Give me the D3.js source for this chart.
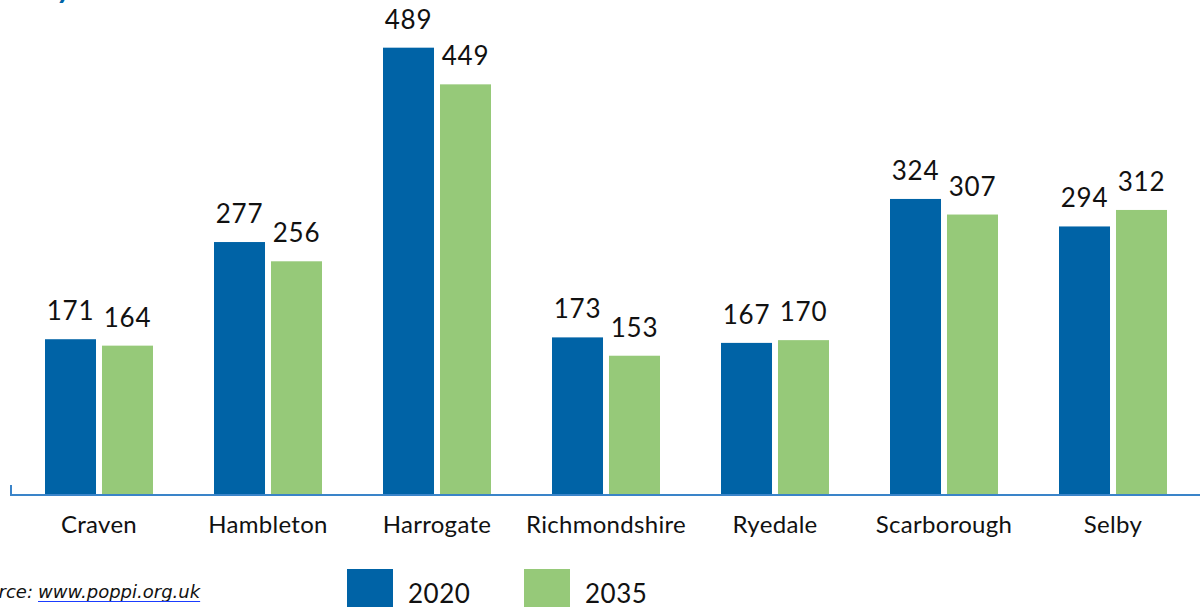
<!DOCTYPE html>
<html><head><meta charset="utf-8">
<script src="https://cdn.jsdelivr.net/npm/d3@7"></script>
<style>
html,body{margin:0;padding:0;background:#fff;overflow:hidden}
svg{display:block}
text{font-family:"Lato","Open Sans",sans-serif}
</style></head>
<body>
<svg id="c" width="1200" height="607"></svg>
<script>
const categories = ["Craven","Hambleton","Harrogate","Richmondshire","Ryedale","Scarborough","Selby"];
const seriesNames = ["2020","2035"];
const values2020 = [171,277,489,173,167,324,294];
const values2035 = [164,256,449,153,170,307,312];
const colors = ["#0063A6","#96C979"];

const svg = d3.select("#c");
const data = categories.map((c,i)=>({cat:c, vals:[values2020[i], values2035[i]]}));

const x0 = d3.scaleBand().domain(categories).range([14.5,1197.5]).paddingInner(0).paddingOuter(0);
const groupPad = 30.5;
const x1 = d3.scaleBand().domain(seriesNames).range([groupPad, x0.bandwidth()-groupPad]).paddingInner(0.105).paddingOuter(0);
const y = d3.scaleLinear().domain([0,541]).range([496,0]);

// partial title descender at top
svg.append("text").attr("x",58).attr("y",-2).attr("font-size",30).attr("font-weight","bold")
  .attr("font-style","italic").attr("fill","#0063A6").text("y");

const g = svg.append("g");
const groups = g.selectAll("g.grp").data(data).join("g").attr("class","grp")
  .attr("transform",d=>`translate(${x0(d.cat)},0)`);

groups.selectAll("rect").data(d=>d.vals.map((v,i)=>({s:seriesNames[i],v,i}))).join("rect")
  .attr("x",d=>x1(d.s)).attr("width",x1.bandwidth())
  .attr("y",d=>y(d.v)).attr("height",d=>y(0)-y(d.v))
  .attr("fill",d=>colors[d.i]);

groups.selectAll("text.val").data(d=>d.vals.map((v,i)=>({s:seriesNames[i],v,i}))).join("text")
  .attr("class","val")
  .attr("x",d=>x1(d.s)+x1.bandwidth()/2).attr("y",d=>y(d.v)-19)
  .attr("text-anchor","middle").attr("font-size",26).attr("letter-spacing",0.8).attr("fill","#111")
  .text(d=>d.v);

// axis
const axis = d3.axisBottom(x0).tickSize(0).tickPadding(0);
const ax = svg.append("g").attr("transform","translate(0,495)");
ax.append("line").attr("x1",10).attr("x2",1200).attr("y1",0).attr("y2",0)
  .attr("stroke","#3A84C9").attr("stroke-width",2);
ax.append("line").attr("x1",11).attr("x2",11).attr("y1",-10).attr("y2",0)
  .attr("stroke","#3A84C9").attr("stroke-width",2);
const axg = ax.append("g").call(axis);
axg.select(".domain").remove();
axg.selectAll("text").attr("font-size",24).attr("fill","#111").attr("dy",0).attr("y",38)
  .attr("letter-spacing",0.3)
  .style("font-family",'"Lato","Open Sans",sans-serif');

// source
const srcFont = '"DejaVu Sans",sans-serif';
svg.append("text").attr("x",33).attr("y",598).attr("text-anchor","end").attr("font-size",18)
  .attr("font-style","italic").attr("fill","#111").style("font-family",srcFont).text("Source:");
const link = svg.append("text").attr("x",38).attr("y",598).attr("font-size",18)
  .attr("font-style","italic").attr("fill","#111").style("font-family",srcFont).text("www.poppi.org.uk");
const lw = link.node().getComputedTextLength();
svg.append("line").attr("x1",38).attr("x2",38+lw).attr("y1",601.5).attr("y2",601.5)
  .attr("stroke","#1a3cff").attr("stroke-width",1);

// legend
const legX = [347,524];
seriesNames.forEach((s,i)=>{
  svg.append("rect").attr("x",legX[i]).attr("y",569).attr("width",46).attr("height",40).attr("fill",colors[i]);
  svg.append("text").attr("x",legX[i]+61).attr("y",603).attr("font-size",26).attr("letter-spacing",0.5)
    .attr("fill","#111").text(s);
});
</script>
</body></html>
